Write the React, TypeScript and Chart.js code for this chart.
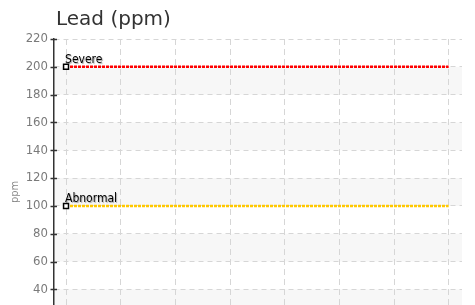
import React, { useEffect, useRef } from "react";
import { Chart, registerables } from "chart.js";

Chart.register(...registerables);

const TITLE = "Lead (ppm)";
const Y_TITLE = "ppm";
const X_POSITIONS = [0, 1, 2, 3, 4, 5, 6, 7];
const SEVERE_VALUES = [200, 200, 200, 200, 200, 200, 200, 200];
const ABNORMAL_VALUES = [100, 100, 100, 100, 100, 100, 100, 100];
const SERIES_LABELS = ["Severe", "Abnormal"];
const Y_MIN = 0;
const Y_MAX = 220;
const Y_STEP = 20;

const NARROW = "'DejaVu Sans Condensed', 'Liberation Sans Narrow', sans-serif";

const decorPlugin = {
  id: "decor",
  beforeDraw(chart: any) {
    const { ctx, chartArea, scales } = chart;
    const y = scales.y;
    const ticks = y.ticks;
    ctx.save();
    ctx.fillStyle = "#f7f7f7";
    for (let i = 0; i < ticks.length - 1; i++) {
      if (i % 2 === 1) {
        const p1 = y.getPixelForValue(ticks[i].value);
        const p2 = y.getPixelForValue(ticks[i + 1].value);
        ctx.fillRect(chartArea.left, p2, chartArea.right - chartArea.left, p1 - p2);
      }
    }
    ctx.restore();
  },
  afterDraw(chart: any) {
    const { ctx, chartArea, scales } = chart;
    const y = scales.y;
    ctx.save();
    ctx.strokeStyle = "#333";
    ctx.lineWidth = 1.5;
    y.ticks.forEach((t: any) => {
      const py = Math.round(y.getPixelForValue(t.value)) + 0.5;
      ctx.beginPath();
      ctx.moveTo(chartArea.left - 3.5, py);
      ctx.lineTo(chartArea.left + 3, py);
      ctx.stroke();
    });
    ctx.fillStyle = "#333";
    ctx.font = "20px 'DejaVu Sans', sans-serif";
    ctx.textBaseline = "alphabetic";
    ctx.textAlign = "left";
    ctx.fillText(TITLE, 56, 25);
    ctx.restore();
  },
  afterDatasetsDraw(chart: any) {
    const { ctx } = chart;
    ctx.save();
    ctx.font = "12px " + NARROW;
    ctx.textBaseline = "alphabetic";
    ctx.textAlign = "left";
    chart.data.datasets.forEach((ds: any, i: number) => {
      const meta = chart.getDatasetMeta(i);
      const pt = meta.data[0];
      if (!pt) return;
      ctx.shadowColor = "rgba(0,0,0,0.35)";
      ctx.shadowOffsetX = 1;
      ctx.shadowOffsetY = 1;
      ctx.shadowBlur = 1;
      ctx.fillStyle = "#000";
      ctx.fillText(ds.label, pt.x - 1, pt.y - 4);
    });
    ctx.restore();
  },
};

export default function App() {
  const ref = useRef<HTMLCanvasElement | null>(null);
  useEffect(() => {
    if (!ref.current) return;
    const mk = (vals: number[]) => X_POSITIONS.map((x, i) => ({ x, y: vals[i] }));
    const radii = X_POSITIONS.map((_, i) => (i === 0 ? 3.5 : 0));
    const common = {
      borderWidth: 2.5,
      borderDash: [3, 1],
      pointRadius: radii,
      pointStyle: "rect",
      pointBackgroundColor: "#ffffff",
      pointBorderColor: "#000000",
      pointBorderWidth: 1.5,
      fill: false,
    };
    const chart = new Chart(ref.current, {
      type: "line",
      data: {
        datasets: [
          { label: SERIES_LABELS[0], data: mk(SEVERE_VALUES), borderColor: "#ff0000", ...common },
          { label: SERIES_LABELS[1], data: mk(ABNORMAL_VALUES), borderColor: "#ffc800", ...common },
        ],
      },
      options: {
        animation: false,
        responsive: false,
        layout: { padding: { top: 39, right: 13, left: 0, bottom: 0 } },
        plugins: {
          legend: { display: false },
          title: { display: false },
          tooltip: { enabled: false },
        },
        scales: {
          x: {
            type: "linear",
            min: -0.22,
            max: 7.244,
            ticks: { display: false, stepSize: 1, includeBounds: false },
            grid: { color: "#d6d6d6", lineWidth: 1, drawTicks: false },
            border: { display: false, dash: [6, 4] },
            afterFit: (s: any) => {
              s.height = 35;
            },
          },
          y: {
            min: Y_MIN,
            max: Y_MAX,
            ticks: {
              stepSize: Y_STEP,
              color: "#7a7a7a",
              padding: 6,
              font: { family: NARROW, size: 13 },
            },
            grid: { color: "#d6d6d6", lineWidth: 1, drawTicks: false },
            border: { display: true, color: "#333", width: 1.5, dash: [5, 4] },
            title: {
              display: true,
              text: Y_TITLE,
              color: "#888",
              padding: { top: 9, bottom: 0 },
              font: { family: NARROW, size: 11 },
            },
            afterFit: (s: any) => {
              s.width = 54;
            },
          },
        },
      },
      plugins: [decorPlugin],
    });
    return () => chart.destroy();
  }, []);
  return (
    <div style={{ position: "absolute", left: 0, top: 0, width: 475, height: 380, background: "#fff" }}>
      <canvas ref={ref} width={475} height={380} />
    </div>
  );
}
